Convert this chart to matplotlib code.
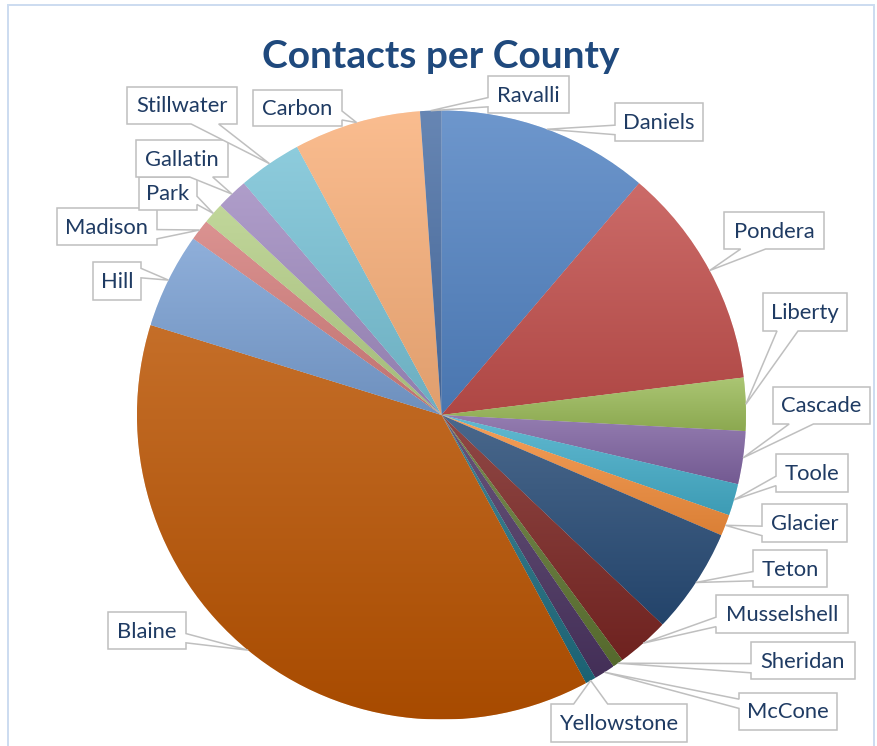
import numpy as np
import matplotlib
matplotlib.use("Agg")
import matplotlib.pyplot as plt
from matplotlib.colors import to_rgb
from matplotlib.patches import Polygon, Rectangle

plt.rcParams['font.family'] = ['Lato', 'DejaVu Sans']

# data: contacts per county, clockwise from 12 o'clock
counties = ['Daniels', 'Pondera', 'Liberty', 'Cascade', 'Toole', 'Glacier',
            'Teton', 'Musselshell', 'Sheridan', 'McCone', 'Yellowstone',
            'Blaine', 'Hill', 'Madison', 'Park', 'Gallatin', 'Stillwater',
            'Carbon', 'Ravalli']
contacts = [20, 21, 5, 5, 3, 2, 10, 5, 1, 2, 1, 67, 9, 2, 2, 3, 6, 12, 2]
colors = ['#5283C3', '#C24F4C', '#9BBB59', '#8064A2', '#44ADC9', '#F38E3C',
          '#274B76', '#7B2623', '#5F7532', '#4B3461', '#1F6D80', '#BA5300',
          '#7AA0D3', '#D47E7C', '#B5CF87', '#A08BC0', '#78C2D6', '#F9B07A',
          '#4A6FA5']

# callout boxes, pixel coords (left, top, right, bottom)
boxes = {
    'Daniels': (615, 103, 703, 141), 'Pondera': (724, 212, 824, 249),
    'Liberty': (763, 293, 847, 331), 'Cascade': (773, 387, 870, 424),
    'Toole': (776, 454, 848, 492), 'Glacier': (762, 504, 847, 542),
    'Teton': (753, 550, 827, 587), 'Musselshell': (716, 595, 848, 633),
    'Sheridan': (751, 642, 855, 679), 'McCone': (739, 693, 837, 730),
    'Yellowstone': (551, 704, 687, 742), 'Blaine': (108, 612, 186, 649),
    'Hill': (93, 262, 141, 300), 'Madison': (57, 208, 157, 245),
    'Park': (139, 177, 197, 210), 'Gallatin': (136, 140, 228, 177),
    'Stillwater': (127, 87, 237, 124), 'Carbon': (253, 90, 342, 126),
    'Ravalli': (488, 76, 569, 113),
}

W, H = 878, 746
CX, CY, R = 441.5, 415, 304.5


def fy(y):
    return H - y


fig = plt.figure(figsize=(W / 100, H / 100), dpi=100)
ax = fig.add_axes([0, 0, 1, 1])

wedges, _ = ax.pie(contacts, colors=colors, startangle=90, counterclock=False,
                   center=(CX, fy(CY)), radius=R, frame=True,
                   wedgeprops=dict(edgecolor='white', linewidth=0.4))

# vertical gradient per slice (lighter top, darker bottom)
for w, c in zip(wedges, colors):
    rgb = np.array(to_rgb(c))
    top = rgb + (1 - rgb) * 0.16
    bot = rgb * 0.9
    t = np.linspace(0, 1, 128)[:, None]
    grad = (top * (1 - t) + bot * t)[:, None, :]
    bb = w.get_path().get_extents()
    im = ax.imshow(grad, extent=(bb.x0, bb.x1, bb.y0, bb.y1), origin='upper',
                   aspect='auto', interpolation='bilinear', zorder=1.5)
    im.set_clip_path(w)

# callouts
for w, name in zip(wedges, counties):
    mid = np.deg2rad((w.theta1 + w.theta2) / 2)
    axp = CX + R * np.cos(mid)
    ayp = CY - R * np.sin(mid)
    l, t_, r, b = boxes[name]
    bw, bh = r - l, b - t_
    dx = axp - (l + r) / 2
    dy = ayp - (t_ + b) / 2
    dq = dx * bh / bw
    tip = (axp, ayp)
    if abs(dy) > abs(dq):
        g1, g2 = (7, 10) if dx > 0 else (2, 5)
        x1, x2 = l + bw * g1 / 12, l + bw * g2 / 12
        if dy < 0:
            pts = [(l, t_), (x1, t_), tip, (x2, t_), (r, t_), (r, b), (l, b)]
        else:
            pts = [(l, t_), (r, t_), (r, b), (x2, b), tip, (x1, b), (l, b)]
    else:
        g1, g2 = (7, 10) if dy > 0 else (2, 5)
        y1, y2 = t_ + bh * g1 / 12, t_ + bh * g2 / 12
        if dx > 0:
            pts = [(l, t_), (r, t_), (r, y1), tip, (r, y2), (r, b), (l, b)]
        else:
            pts = [(l, t_), (r, t_), (r, b), (l, b), (l, y2), tip, (l, y1)]
    ax.add_patch(Polygon([(px, fy(py)) for px, py in pts], closed=True,
                         facecolor='white', edgecolor='#BFBFBF', lw=1.1,
                         zorder=3))
    ax.text((l + r) / 2, fy((t_ + b) / 2 + 1), name, ha='center', va='center',
            fontsize=15.8, color='#1F3B63', zorder=4)

ax.text(441, fy(68), 'Contacts per County', ha='center', va='baseline',
        fontsize=28, fontweight='bold', color='#1F497D')

# chart frame
ax.add_patch(Rectangle((8, fy(760)), 866, 755, fill=False,
                       edgecolor='#CCDCF0', lw=1.4, zorder=5))

ax.set_xlim(0, W)
ax.set_ylim(0, H)
ax.set_aspect('auto')
ax.axis('off')
fig.savefig('out.png', dpi=100)
